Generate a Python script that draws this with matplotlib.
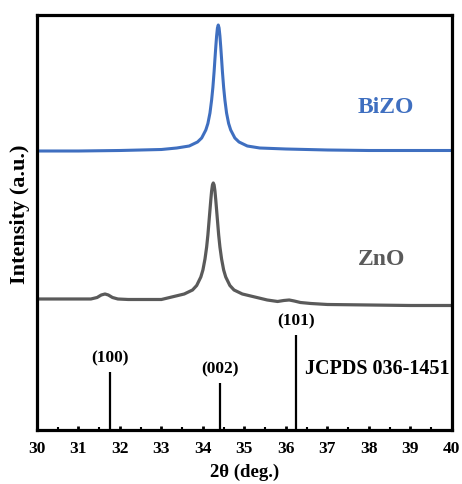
import matplotlib.pyplot as plt

plt.rcParams['font.family'] = ['Liberation Serif', 'DejaVu Serif']
plt.rcParams['font.weight'] = 'bold'

# BiZO pattern (2theta, intensity in a.u.)
bizo_x = [30.0, 31.0, 32.0, 33.0, 33.37, 33.67, 33.87, 33.97, 34.07, 34.12, 34.17,
          34.21, 34.24, 34.27, 34.29, 34.31, 34.33, 34.35, 34.37, 34.39, 34.41,
          34.43, 34.45, 34.47, 34.50, 34.53, 34.57, 34.62, 34.67, 34.77, 34.87,
          35.07, 35.37, 36.0, 37.0, 38.0, 40.0]
bizo_y = [279, 279, 279.5, 280.5, 282, 284, 288, 292, 300, 306.5, 317,
          330, 342.5, 358.5, 371, 383, 394, 402, 405, 402, 394,
          383, 371, 358.5, 342.5, 330, 317, 306.5, 300, 292, 288,
          284, 282, 281, 280, 279.5, 279.5]

# ZnO pattern
zno_x = [30.0, 30.5, 31.0, 31.3, 31.45, 31.55, 31.64, 31.72, 31.82, 31.95, 32.2,
         32.6, 33.0,
         33.25, 33.55, 33.75, 33.85, 33.95, 34.0, 34.05, 34.09, 34.12, 34.15,
         34.17, 34.19, 34.21, 34.23, 34.25, 34.27, 34.29, 34.31, 34.33, 34.35,
         34.38, 34.41, 34.45, 34.5, 34.55, 34.65, 34.75, 34.95, 35.25,
         35.55, 35.8, 35.95, 36.08, 36.2, 36.35, 36.6, 37.0, 38.0, 39.0, 40.0]
zno_y = [131, 131, 131, 131, 132.5, 135, 136, 135, 132.5, 131, 130.5,
         130.5, 130.5,
         133, 136, 140, 144.5, 153, 160, 171, 183, 195, 210,
         220, 230, 239, 245, 247, 245, 239, 230, 220, 210,
         195, 183, 171, 160, 153, 144.5, 140, 136, 133,
         130, 128.5, 129.5, 130, 129, 127.5, 126.5, 125.5, 125, 124.5, 124.5]

# JCPDS 036-1451 reference lines
ref_pos = [31.77, 34.42, 36.25]
ref_int = [58, 47, 95]
ref_hkl = ['(100)', '(002)', '(101)']

blue = '#3f6fc0'
gray = '#5a5a5a'

fig = plt.figure(figsize=(4.62, 4.84), dpi=100)
ax = fig.add_axes([0.080, 0.1116, 0.898, 0.8574])

ax.plot(bizo_x, bizo_y, color=blue, lw=2.2)
ax.plot(zno_x, zno_y, color=gray, lw=2.3)

ax.vlines(ref_pos, 0, ref_int, color='black', lw=1.6)
for p, h, lab in zip(ref_pos, ref_int, ref_hkl):
    ax.annotate(lab, (p, h), xytext=(0, 4), textcoords='offset points',
                ha='center', va='bottom', fontsize=12.5, fontweight='bold')

ax.text(0.841, 0.778, 'BiZO', transform=ax.transAxes, color=blue,
        fontsize=17, fontweight='bold', ha='center', va='center')
ax.text(0.830, 0.410, 'ZnO', transform=ax.transAxes, color=gray,
        fontsize=17, fontweight='bold', ha='center', va='center')
ax.text(0.820, 0.146, 'JCPDS 036-1451', transform=ax.transAxes,
        fontsize=14.5, fontweight='bold', ha='center', va='center')

ax.set_xlim(30, 40)
ax.set_ylim(0, 415)
ax.set_xticks(range(30, 41))
ax.set_xticks([x + 0.5 for x in range(30, 40)], minor=True)
ax.set_yticks([])
ax.tick_params(axis='x', which='major', direction='in', length=3, width=2,
               labelsize=12.5, pad=8)
ax.tick_params(axis='x', which='minor', direction='in', length=2, width=1.5)
for s in ax.spines.values():
    s.set_linewidth(2.3)

ax.set_xlabel('2θ (deg.)', fontsize=13.5, fontweight='bold', labelpad=5)
ax.set_ylabel('Intensity (a.u.)', fontsize=16, fontweight='bold')
ax.yaxis.set_label_coords(-0.017, 0.52)

fig.savefig('out.png', dpi=100)
